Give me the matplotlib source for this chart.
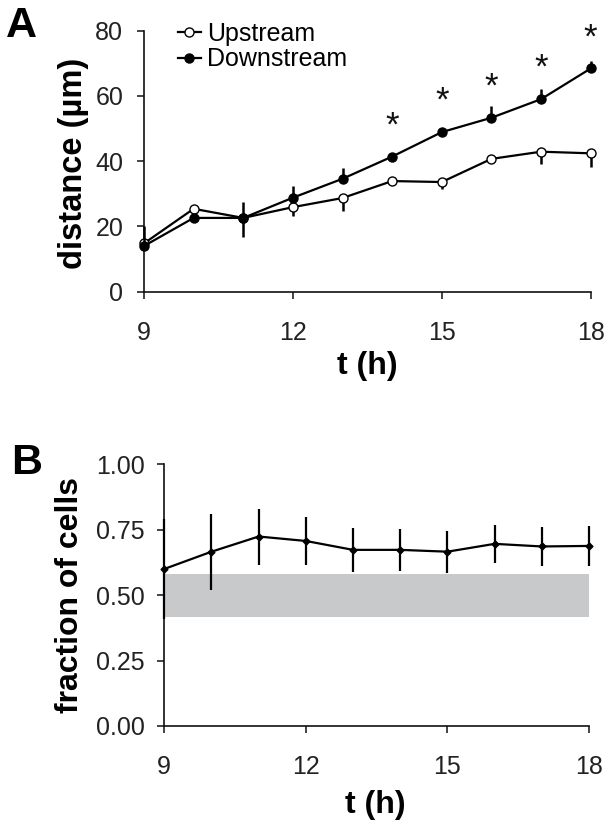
import matplotlib
matplotlib.use('Agg')
from matplotlib import pyplot as plt
from matplotlib.lines import Line2D

# time points (h)
hours = [9, 10, 11, 12, 13, 14, 15, 16, 17, 18]

# panel A: migration distance (um)
upstream = [14.8, 25.4, 22.6, 25.9, 28.7, 33.9, 33.6, 40.7, 42.9, 42.4]
upstream_err_low = [1.0, 1.0, 5.9, 2.8, 4.1, 0.8, 2.1, 0.8, 3.8, 4.3]
downstream = [14.0, 22.6, 22.6, 28.8, 34.6, 41.4, 48.9, 53.3, 59.0, 68.4]
downstream_err_up = [6.0, 0.8, 4.8, 3.7, 3.3, 0.8, 0.8, 3.7, 3.1, 2.3]
sig_hours = [14, 15, 16, 17, 18]

# panel B: fraction of cells
fraction = [0.600, 0.666, 0.724, 0.707, 0.673, 0.673, 0.666, 0.696, 0.686, 0.688]
fraction_err = [0.19, 0.145, 0.107, 0.09, 0.085, 0.08, 0.08, 0.073, 0.074, 0.075]
band_low = 0.417
band_high = 0.580

plt.rcParams['font.family'] = ['Liberation Sans', 'DejaVu Sans']
tick_color = '#222222'

fig = plt.figure(figsize=(6.13, 8.26), dpi=100)
axA = fig.add_axes([0.2349, 0.6469, 0.7287, 0.3160])
axB = fig.add_axes([0.2680, 0.1211, 0.6928, 0.3168])

def style_axes(ax, ypad):
    for s in ['top', 'right']:
        ax.spines[s].set_visible(False)
    for s in ['left', 'bottom']:
        ax.spines[s].set_linewidth(1.2)
        ax.spines[s].set_color('#111111')
    ax.tick_params(axis='both', direction='out', length=5, width=1.1,
                   labelsize=18, colors='#111111', labelcolor=tick_color)
    ax.tick_params(axis='x', pad=16)
    ax.tick_params(axis='y', pad=ypad)
    ax.set_xlim(9, 18)
    ax.set_xticks([9, 12, 15, 18])

# ---- panel A ----
zeros = [0] * len(hours)
axA.errorbar(hours, upstream, yerr=[upstream_err_low, zeros], color='black',
             lw=1.6, elinewidth=1.8, capsize=0, marker='o', ms=6.5,
             mfc='white', mec='black', mew=1.0, clip_on=False, zorder=3)
axA.errorbar(hours, downstream, yerr=[zeros, downstream_err_up], color='black',
             lw=1.6, elinewidth=1.8, capsize=0, marker='o', ms=6.5,
             mfc='black', mec='black', clip_on=False, zorder=4)
for t in sig_hours:
    y = downstream[hours.index(t)]
    axA.annotate('*', xy=(t, y), xytext=(0, 22), textcoords='offset points',
                 ha='center', va='center', fontsize=25, color='#111111')

style_axes(axA, 10)
axA.set_ylim(0, 80)
axA.set_yticks([0, 20, 40, 60, 80])
axA.set_xlabel('t (h)', fontsize=23, fontweight='bold')
axA.xaxis.set_label_coords(0.501, -0.228)
axA.set_ylabel('distance (\u00b5m)', fontsize=23.5, fontweight='bold', va='center')
axA.yaxis.set_label_coords(-0.157, 0.49)

handles = [Line2D([], [], color='black', lw=1.6, marker='o', ms=6.5,
                  mfc='white', mec='black', mew=1.0),
           Line2D([], [], color='black', lw=1.6, marker='o', ms=6.5,
                  mfc='black', mec='black')]
axA.legend(handles, ['Upstream', 'Downstream'], loc='upper left', frameon=False,
           fontsize=18, handlelength=0.9, handletextpad=0.25, labelspacing=0.05,
           borderpad=0, borderaxespad=0,
           bbox_to_anchor=(178 / 613, 1 - 22 / 826), bbox_transform=fig.transFigure)

fig.text(6 / 613, 1 - 6 / 826, 'A', fontsize=31, fontweight='bold', va='top', ha='left')

# ---- panel B ----
axB.axhspan(band_low, band_high, color='#c8c9cb', lw=0, zorder=1)
axB.errorbar(hours, fraction, yerr=fraction_err, color='black', lw=1.6,
             elinewidth=1.6, capsize=0, marker='D', ms=3.5, clip_on=False, zorder=3)
style_axes(axB, 9)
axB.set_ylim(0, 1)
axB.set_yticks([0, 0.25, 0.5, 0.75, 1.0])
axB.set_yticklabels(['0.00', '0.25', '0.50', '0.75', '1.00'])
axB.set_xlabel('t (h)', fontsize=23, fontweight='bold')
axB.xaxis.set_label_coords(0.497, -0.246)
axB.set_ylabel('fraction of cells', fontsize=23, fontweight='bold', va='center')
axB.yaxis.set_label_coords(-0.221, 0.50)

fig.text(11 / 613, 1 - 443 / 826, 'B', fontsize=31, fontweight='bold', va='top', ha='left')

plt.savefig('out.png', dpi=100)
